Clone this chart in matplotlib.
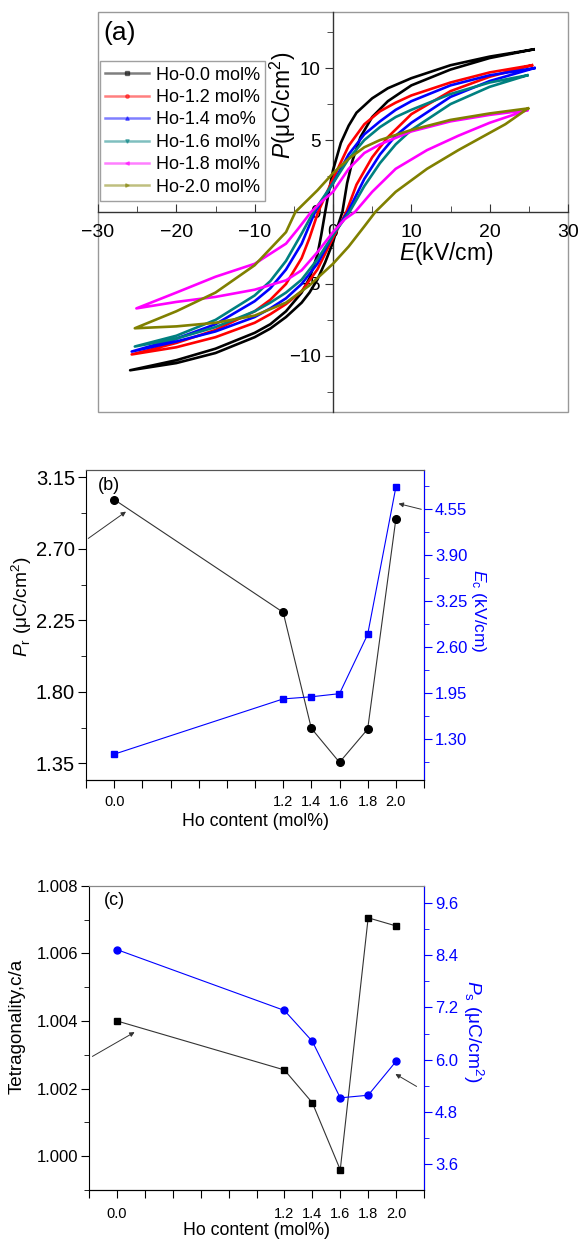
import matplotlib
matplotlib.use("Agg")
import matplotlib.pyplot as plt
from matplotlib.lines import Line2D
from matplotlib.patches import Rectangle
from matplotlib.ticker import MultipleLocator, FixedLocator

plt.rcParams['font.family'] = ['Liberation Sans', 'DejaVu Sans']
plt.rcParams['mathtext.fontset'] = 'custom'
plt.rcParams['mathtext.rm'] = 'Liberation Sans'
plt.rcParams['mathtext.it'] = 'Liberation Sans:italic'

# ---- (a) P-E loops: upper branch (E falling), lower branch (E rising)
labels_a = ['Ho-0.0 mol%', 'Ho-1.2 mol%', 'Ho-1.4 mo%', 'Ho-1.6 mol%', 'Ho-1.8 mol%', 'Ho-2.0 mol%']
colors_a = ['#000000', '#ff0000', '#0000ff', '#008080', '#ff00ff', '#808000']
markers_a = ['s', 'o', '^', 'v', '<', '>']

e_up_00 = [25.6, 20, 15, 10, 7, 5, 3, 2, 1, 0, -0.5, -1.0, -1.5, -2, -3, -4, -6, -8, -10, -15, -20, -25.9]
p_up_00 = [11.3, 10.8, 10.2, 9.3, 8.6, 7.9, 6.9, 6.0, 4.8, 2.9, 1.5, 0.0, -1.6, -3.0, -4.6, -5.6, -6.9, -7.8, -8.4, -9.5, -10.3, -11.0]
e_lo_00 = [-25.9, -20, -15, -10, -8, -6, -4, -3, -2, -1, 0, 0.6, 1.2, 1.8, 2.5, 3.5, 5, 7, 10, 15, 20, 25.6]
p_lo_00 = [-11.0, -10.5, -9.8, -8.7, -8.1, -7.3, -6.3, -5.6, -4.7, -3.5, -2.1, -1.0, 0.0, 2.0, 3.6, 5.2, 6.6, 7.7, 8.8, 9.9, 10.7, 11.3]

e_up_12 = [25.4, 20, 15, 10, 8, 6, 4, 2, 0, -1, -1.9, -3, -4, -6, -8, -10, -15, -20, -25.7]
p_up_12 = [10.2, 9.7, 9.0, 8.1, 7.6, 7.0, 6.1, 4.6, 2.3, 1.1, 0.0, -1.8, -3.2, -5.0, -6.1, -6.9, -8.2, -9.1, -9.9]
e_lo_12 = [-25.7, -20, -15, -10, -8, -6, -4, -2, 0, 1.7, 3, 5, 7, 10, 15, 20, 25.4]
p_lo_12 = [-9.9, -9.4, -8.7, -7.7, -7.1, -6.4, -5.5, -4.0, -1.8, 0.0, 1.9, 3.8, 5.2, 6.8, 8.4, 9.4, 10.2]

e_up_14 = [25.7, 20, 15, 10, 8, 6, 4, 2, 0, -2.3, -4, -6, -8, -10, -15, -20, -25.7]
p_up_14 = [10.0, 9.5, 8.8, 7.7, 7.1, 6.3, 5.4, 4.0, 2.0, 0.0, -2.2, -4.0, -5.3, -6.2, -7.8, -8.8, -9.7]
e_lo_14 = [-25.7, -20, -15, -10, -8, -6, -4, -2, 0, 1.9, 4, 6, 8, 10, 15, 20, 25.7]
p_lo_14 = [-9.7, -9.0, -8.3, -7.3, -6.7, -6.0, -5.0, -3.6, -1.6, 0.0, 2.3, 4.0, 5.3, 6.2, 8.0, 9.1, 10.0]

e_up_16 = [24.8, 20, 15, 10, 8, 6, 4, 2, 0, -2.5, -4, -6, -8, -10, -15, -20, -25.3]
p_up_16 = [9.5, 9.0, 8.2, 7.1, 6.6, 5.9, 5.0, 3.7, 2.0, 0.0, -1.5, -3.4, -4.8, -5.8, -7.5, -8.6, -9.35]
e_lo_16 = [-25.3, -20, -15, -10, -8, -6, -4, -2, 0, 2.1, 4, 6, 8, 10, 15, 20, 24.8]
p_lo_16 = [-9.35, -8.8, -8.0, -6.9, -6.3, -5.6, -4.7, -3.3, -1.6, 0.0, 1.8, 3.4, 4.7, 5.7, 7.5, 8.7, 9.5]

e_up_18 = [24.8, 20, 15, 10, 6, 4, 2, 0, -1.5, -2.8, -4.5, -6, -10, -15, -20, -25.1]
p_up_18 = [7.08, 6.75, 6.3, 5.6, 4.7, 4.1, 3.0, 1.4, 0.7, 0.0, -1.2, -2.2, -3.6, -4.5, -5.6, -6.7]
e_lo_18 = [-25.1, -20, -15, -10, -6, -4, -2, 0, 1.5, 2.8, 5, 8, 12, 16, 20, 24.8]
p_lo_18 = [-6.7, -6.25, -5.9, -5.4, -4.75, -4.05, -2.8, -1.4, -0.5, 0.0, 1.4, 3.0, 4.3, 5.3, 6.2, 7.08]

e_up_20 = [24.9, 20, 15, 10, 6, 4, 2, 0, -2, -4.8, -6, -10, -15, -20, -25.3]
p_up_20 = [7.2, 6.85, 6.4, 5.7, 5.0, 4.5, 3.7, 2.7, 1.5, 0.0, -1.4, -3.7, -5.6, -6.9, -8.08]
e_lo_20 = [-25.3, -20, -15, -10, -6, -3, 0, 2, 4, 5.4, 8, 12, 16, 19, 22, 24.9]
p_lo_20 = [-8.08, -7.95, -7.7, -7.2, -6.3, -5.1, -3.6, -2.4, -1.0, 0.0, 1.4, 3.0, 4.3, 5.2, 6.1, 7.2]

loops_e = [(e_up_00, e_lo_00), (e_up_12, e_lo_12), (e_up_14, e_lo_14),
           (e_up_16, e_lo_16), (e_up_18, e_lo_18), (e_up_20, e_lo_20)]
loops_p = [(p_up_00, p_lo_00), (p_up_12, p_lo_12), (p_up_14, p_lo_14),
           (p_up_16, p_lo_16), (p_up_18, p_lo_18), (p_up_20, p_lo_20)]

# ---- (b), (c) vs Ho content
ho = [0.0, 1.2, 1.4, 1.6, 1.8, 2.0]
pr = [3.01, 2.30, 1.57, 1.356, 1.565, 2.886]
ec = [1.09, 1.87, 1.90, 1.944, 2.78, 4.855]
tetra = [1.0040, 1.00255, 1.00158, 0.9996, 1.00705, 1.00681]
ps = [8.53, 7.13, 6.42, 5.12, 5.18, 5.96]

x_ticks = [-0.2, 0.0, 0.2, 0.4, 0.6, 0.8, 1.0, 1.2, 1.4, 1.6, 1.8, 2.0, 2.2]
x_labels = ['', '0.0', '', '', '', '', '', '1.2', '1.4', '1.6', '1.8', '2.0', '']

W, H = 580, 1239
fig = plt.figure(figsize=(5.8, 12.39), dpi=100)


def box(l, t, r, b):
    return [l / W, 1 - b / H, (r - l) / W, (b - t) / H]


# ================= (a)
ax = fig.add_axes(box(98, 12, 568, 412))
for (eu, el), (pu, pl), c in zip(loops_e, loops_p, colors_a):
    ax.plot(eu + el, pu + pl, color=c, lw=1.9, zorder=3, solid_joinstyle='round')
ax.set_xlim(-30, 30)
ax.set_ylim(-13.9, 13.9)
for s in ['top', 'right']:
    ax.spines[s].set_visible(False)
for s in ['left', 'bottom']:
    ax.spines[s].set_position(('data', 0))
    ax.spines[s].set_color('#333333')
    ax.spines[s].set_linewidth(1.0)
ax.add_patch(Rectangle((0, 0), 1, 1, transform=ax.transAxes, fill=False,
                       edgecolor='#999999', lw=1.0, clip_on=False, zorder=1))
ax.xaxis.set_major_locator(MultipleLocator(10))
ax.xaxis.set_minor_locator(MultipleLocator(5))
ax.yaxis.set_major_locator(MultipleLocator(5))
ax.yaxis.set_minor_locator(MultipleLocator(2.5))
ax.tick_params(axis='x', which='both', direction='in', labelsize=14, pad=9, color='#333333')
ax.tick_params(axis='y', which='both', direction='out', labelsize=13.5, pad=3, color='#333333')
ax.tick_params(which='major', length=6)
ax.tick_params(which='minor', length=4)
ax.text(14.4, -2.9, '$\\mathit{E}$(kV/cm)', fontsize=16.5, ha='center', va='center')
ax.text(-6.4, 7.4, '$\\mathit{P}$(μC/cm$^{2}$)', fontsize=16.5, ha='center', va='center', rotation=90)
ax.text(0.012, 0.948, '(a)', transform=ax.transAxes, fontsize=19, ha='left', va='center')
handles = [Line2D([0], [0], color=c, lw=1.8, alpha=0.5, marker=m, ms=2.5,
                  markerfacecolor=c, markeredgecolor=c)
           for c, m in zip(colors_a, markers_a)]
leg = ax.legend(handles, labels_a, loc='upper left', bbox_to_anchor=(0.004, 0.877),
                borderaxespad=0, fontsize=13, frameon=True, fancybox=False,
                handlelength=2.4, handletextpad=0.4, labelspacing=0.3,
                borderpad=0.3)
leg.get_frame().set_edgecolor('#888888')
leg.get_frame().set_linewidth(1.0)

# ================= (b)
axb = fig.add_axes(box(86, 469.5, 424, 779.5))
axb2 = axb.twinx()
axb.plot(ho, pr, color='#333333', lw=0.8, marker='o', ms=5.5, mfc='black', mec='black', zorder=3)
axb2.plot(ho, ec, color='blue', lw=0.8, marker='s', ms=4.5, mfc='blue', mec='blue', zorder=3)
axb.set_xlim(-0.2, 2.2)
axb.set_ylim(1.248, 3.199)
axb2.set_ylim(0.733, 5.107)
axb.xaxis.set_major_locator(FixedLocator(x_ticks))
axb.set_xticklabels(x_labels)
axb.yaxis.set_major_locator(FixedLocator([1.35, 1.80, 2.25, 2.70, 3.15]))
axb.yaxis.set_minor_locator(FixedLocator([1.575, 2.025, 2.475, 2.925]))
axb.set_yticklabels(['1.35', '1.80', '2.25', '2.70', '3.15'])
axb2.yaxis.set_major_locator(FixedLocator([1.30, 1.95, 2.60, 3.25, 3.90, 4.55]))
axb2.yaxis.set_minor_locator(FixedLocator([0.975, 1.625, 2.275, 2.925, 3.575, 4.225, 4.875]))
axb2.set_yticklabels(['1.30', '1.95', '2.60', '3.25', '3.90', '4.55'])
axb.tick_params(axis='x', which='major', direction='out', length=6, labelsize=10.5, pad=5)
axb.tick_params(axis='y', which='major', direction='out', length=6, labelsize=14.5, pad=2)
axb.tick_params(axis='y', which='minor', direction='out', length=3.5)
axb2.tick_params(axis='y', which='major', direction='out', length=6, labelsize=12,
                 pad=2, colors='blue')
axb2.tick_params(axis='y', which='minor', direction='out', length=3.5, colors='blue')
axb2.spines['right'].set_color('blue')
axb2.spines['left'].set_visible(False)
for a in (axb, axb2):
    a.spines['top'].set_color('#555555')
axb.set_xlabel('Ho content (mol%)', fontsize=12.8, labelpad=3)
axb.set_ylabel('$\\mathit{P}_\\mathrm{r}$ (μC/cm$^{2}$)', fontsize=13.8, va='center')
axb.yaxis.set_label_coords(-0.189, 0.556)
axb2.set_ylabel('$\\mathit{E}_\\mathrm{c}$ (kV/cm)', fontsize=12.5, color='blue', rotation=270, va='center')
axb2.yaxis.set_label_coords(1.160, 0.544)
axb.text(0.035, 0.95, '(b)', transform=axb.transAxes, fontsize=13, ha='left', va='center')
axb.annotate('', xy=(0.10, 2.944), xytext=(-0.2, 2.755), annotation_clip=False,
             arrowprops=dict(arrowstyle='-|>', color='#333333', lw=0.7, mutation_scale=7))
axb2.annotate('', xy=(2.0, 4.635), xytext=(2.2, 4.536), annotation_clip=False,
              arrowprops=dict(arrowstyle='-|>', color='#333333', lw=0.7, mutation_scale=7))

# ================= (c)
axc = fig.add_axes(box(89, 885.7, 424, 1190))
axc2 = axc.twinx()
axc.plot(ho, tetra, color='#333333', lw=0.8, marker='s', ms=5, mfc='black', mec='black', zorder=3)
axc2.plot(ho, ps, color='blue', lw=0.8, marker='o', ms=5, mfc='blue', mec='blue', zorder=3)
axc.set_xlim(-0.2, 2.2)
axc.set_ylim(0.999, 1.008)
axc2.set_ylim(3.0, 10.0)
axc.xaxis.set_major_locator(FixedLocator(x_ticks))
axc.set_xticklabels(x_labels)
axc.yaxis.set_major_locator(FixedLocator([1.000, 1.002, 1.004, 1.006, 1.008]))
axc.yaxis.set_minor_locator(FixedLocator([0.999, 1.001, 1.003, 1.005, 1.007]))
axc.set_yticklabels(['1.000', '1.002', '1.004', '1.006', '1.008'])
axc2.yaxis.set_major_locator(FixedLocator([3.6, 4.8, 6.0, 7.2, 8.4, 9.6]))
axc2.yaxis.set_minor_locator(FixedLocator([4.2, 5.4, 6.6, 7.8, 9.0]))
axc2.set_yticklabels(['3.6', '4.8', '6.0', '7.2', '8.4', '9.6'])
axc.tick_params(axis='x', which='major', direction='out', length=6, labelsize=10.5, pad=6)
axc.tick_params(axis='y', which='major', direction='out', length=6, labelsize=12, pad=2)
axc.tick_params(axis='y', which='minor', direction='out', length=3.5)
axc2.tick_params(axis='y', which='major', direction='out', length=6, labelsize=12,
                 pad=2, colors='blue')
axc2.tick_params(axis='y', which='minor', direction='out', length=3.5, colors='blue')
axc2.spines['right'].set_color('blue')
axc2.spines['left'].set_visible(False)
for a in (axc, axc2):
    a.spines['top'].set_color('#888888')
axc.set_xlabel('Ho content (mol%)', fontsize=12.8, labelpad=1)
axc.set_ylabel('Tetragonality,c/a', fontsize=13.6, va='center')
axc.yaxis.set_label_coords(-0.215, 0.537)
axc2.set_ylabel('$\\mathit{P}_\\mathrm{s}$ (μC/cm$^{2}$)', fontsize=13.8, color='blue', rotation=270, va='center')
axc2.yaxis.set_label_coords(1.146, 0.52)
axc.text(0.045, 0.95, '(c)', transform=axc.transAxes, fontsize=13, ha='left', va='center')
axc.annotate('', xy=(0.144, 1.00371), xytext=(-0.193, 1.00291), annotation_clip=False,
             arrowprops=dict(arrowstyle='-|>', color='#333333', lw=0.7, mutation_scale=7))
axc2.annotate('', xy=(1.978, 5.70), xytext=(2.164, 5.35), annotation_clip=False,
              arrowprops=dict(arrowstyle='-|>', color='#333333', lw=0.7, mutation_scale=7))

fig.savefig('out.png', dpi=100)
